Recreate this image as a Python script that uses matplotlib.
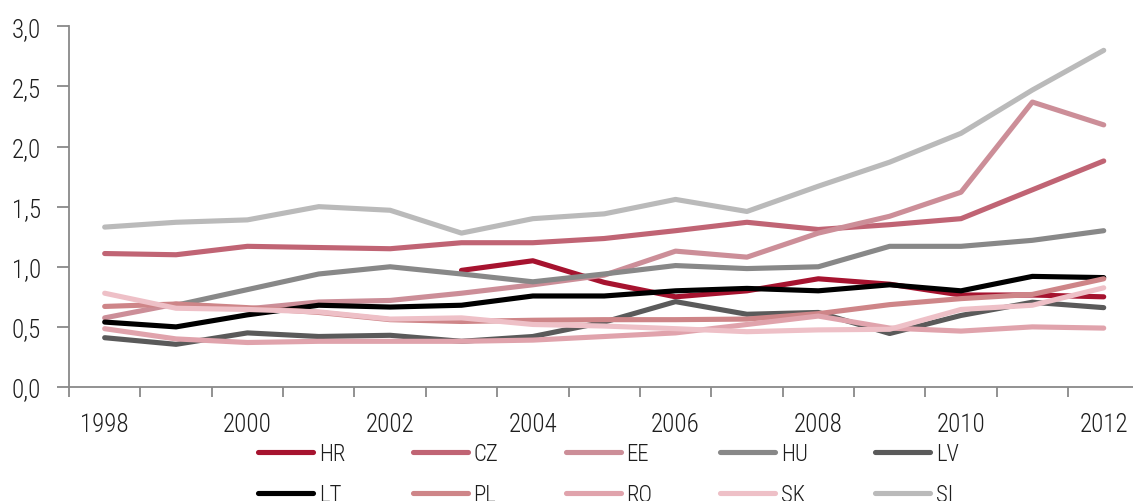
import os
import numpy as np
import matplotlib
matplotlib.use("Agg")
import matplotlib.pyplot as plt
import matplotlib.font_manager as fm

years = list(range(1998, 2013))
nan = np.nan
HR = [nan, nan, nan, nan, nan, 0.97, 1.05, 0.87, 0.75, 0.80, 0.90, 0.855, 0.765, 0.765, 0.75]
CZ = [1.11, 1.10, 1.17, 1.16, 1.15, 1.20, 1.20, 1.235, 1.30, 1.37, 1.31, 1.35, 1.40, 1.64, 1.88]
EE = [0.575, 0.69, 0.65, 0.707, 0.72, 0.78, 0.85, 0.93, 1.13, 1.08, 1.28, 1.42, 1.62, 2.37, 2.18]
HU = [nan, 0.68, 0.81, 0.94, 1.00, 0.94, 0.875, 0.94, 1.01, 0.985, 1.00, 1.17, 1.17, 1.22, 1.30]
LV = [0.41, 0.355, 0.45, 0.42, 0.43, 0.38, 0.42, 0.54, 0.71, 0.605, 0.62, 0.445, 0.595, 0.705, 0.66]
LT = [0.54, 0.50, 0.60, 0.68, 0.665, 0.68, 0.757, 0.757, 0.80, 0.82, 0.80, 0.85, 0.80, 0.92, 0.91]
PL = [0.67, 0.69, 0.66, 0.62, 0.56, 0.545, 0.555, 0.56, 0.56, 0.565, 0.61, 0.685, 0.735, 0.77, 0.90]
RO = [0.485, 0.40, 0.37, 0.38, 0.38, 0.38, 0.39, 0.42, 0.45, 0.52, 0.59, 0.49, 0.465, 0.50, 0.49]
SK = [0.78, 0.655, 0.645, 0.625, 0.565, 0.575, 0.52, 0.507, 0.485, 0.46, 0.475, 0.48, 0.645, 0.68, 0.825]
SI = [1.33, 1.37, 1.39, 1.50, 1.47, 1.28, 1.40, 1.44, 1.56, 1.46, 1.67, 1.87, 2.11, 2.47, 2.80]

series_names = ["HR", "CZ", "EE", "HU", "LV", "LT", "PL", "RO", "SK", "SI"]
series_values = [HR, CZ, EE, HU, LV, LT, PL, RO, SK, SI]
colors = ["#A6132F", "#C06474", "#CC8E98", "#888888", "#5A5A5A",
          "#000000", "#CE8588", "#E0A3AC", "#EEC0C7", "#BABABA"]
yticks = [0.0, 0.5, 1.0, 1.5, 2.0, 2.5, 3.0]
ytick_labels = [f"{v:.1f}".replace(".", ",") for v in yticks]
xlabel_years = [1998, 2000, 2002, 2004, 2006, 2008, 2010, 2012]

# ---- font selection: prefer a condensed sans ----
def pick_font():
    best, best_score = None, -1
    for f in fm.fontManager.ttflist:
        key = (f.name + " " + os.path.basename(f.fname)).lower()
        if "italic" in key or "oblique" in key or f.style != "normal":
            continue
        cond = ("condensed" in key or "narrow" in key or
                f.stretch in ("condensed", "semi-condensed", "extra-condensed"))
        if not cond:
            continue
        score = 1
        if "roboto" in key:
            score += 10
            if "light" in key:
                score += 3
            elif "regular" in key or f.weight in (400, "normal"):
                score += 2
        elif "liberation" in key:
            score += 6
            if "bold" not in key:
                score += 2
        elif "dejavu" in key:
            score += 4
            if "bold" not in key:
                score += 2
        else:
            if "bold" not in key and "black" not in key:
                score += 1
        if score > best_score:
            best, best_score = f, score
    return best

fe = pick_font()
if fe is not None:
    fpath = fe.fname
    tick_fp = fm.FontProperties(fname=fpath, size=18)
    leg_fp = fm.FontProperties(fname=fpath, size=16.5)
else:
    tick_fp = fm.FontProperties(family="Roboto", weight="light", size=16)
    leg_fp = fm.FontProperties(family="Roboto", weight="light", size=15)

W, H = 1133, 502
fig = plt.figure(figsize=(W / 100, H / 100), dpi=100)
ax = fig.add_axes([69 / W, 1 - 388 / H, 1070.4 / W, (388 - 27.3) / H])

x = np.arange(len(years))
handles = []
for name, vals, c in zip(series_names, series_values, colors):
    ln, = ax.plot(x, vals, color=c, lw=3.7, solid_capstyle="round",
                  solid_joinstyle="round", label=name)
    handles.append(ln)

ax.set_xlim(-0.5, len(years) - 0.5)
ax.set_ylim(0, 3.0)

axis_col = "#898989"
for s in ["top", "right"]:
    ax.spines[s].set_visible(False)
for s in ["left", "bottom"]:
    ax.spines[s].set_color(axis_col)
    ax.spines[s].set_linewidth(1.3)

ax.set_yticks(yticks)
ax.set_yticklabels(ytick_labels, fontproperties=tick_fp, color="#1E1E1E")
ax.tick_params(axis="y", length=9, width=1.3, color=axis_col, pad=11, direction="out")

ax.set_xticks(np.arange(-0.5, len(years), 1.0))
ax.set_xticklabels([])
ax.tick_params(axis="x", which="major", length=7, width=1.3, color=axis_col, direction="out")
minor_pos = [years.index(y) for y in xlabel_years]
ax.set_xticks(minor_pos, minor=True)
ax.set_xticklabels([str(y) for y in xlabel_years], minor=True,
                   fontproperties=tick_fp, color="#1E1E1E")
ax.tick_params(axis="x", which="minor", length=0, pad=18)

order = [0, 5, 1, 6, 2, 7, 3, 8, 4, 9]
leg = fig.legend([handles[i] for i in order], [series_names[i] for i in order],
                 ncol=5, loc="upper left", bbox_to_anchor=(258 / W, 1 - 443 / H),
                 frameon=False, prop=leg_fp, handlelength=2.4, handletextpad=0.25,
                 columnspacing=2.95, labelspacing=0.8, borderpad=0, borderaxespad=0)
for t in leg.get_texts():
    t.set_color("#1E1E1E")

fig.savefig("out.png", dpi=100)
